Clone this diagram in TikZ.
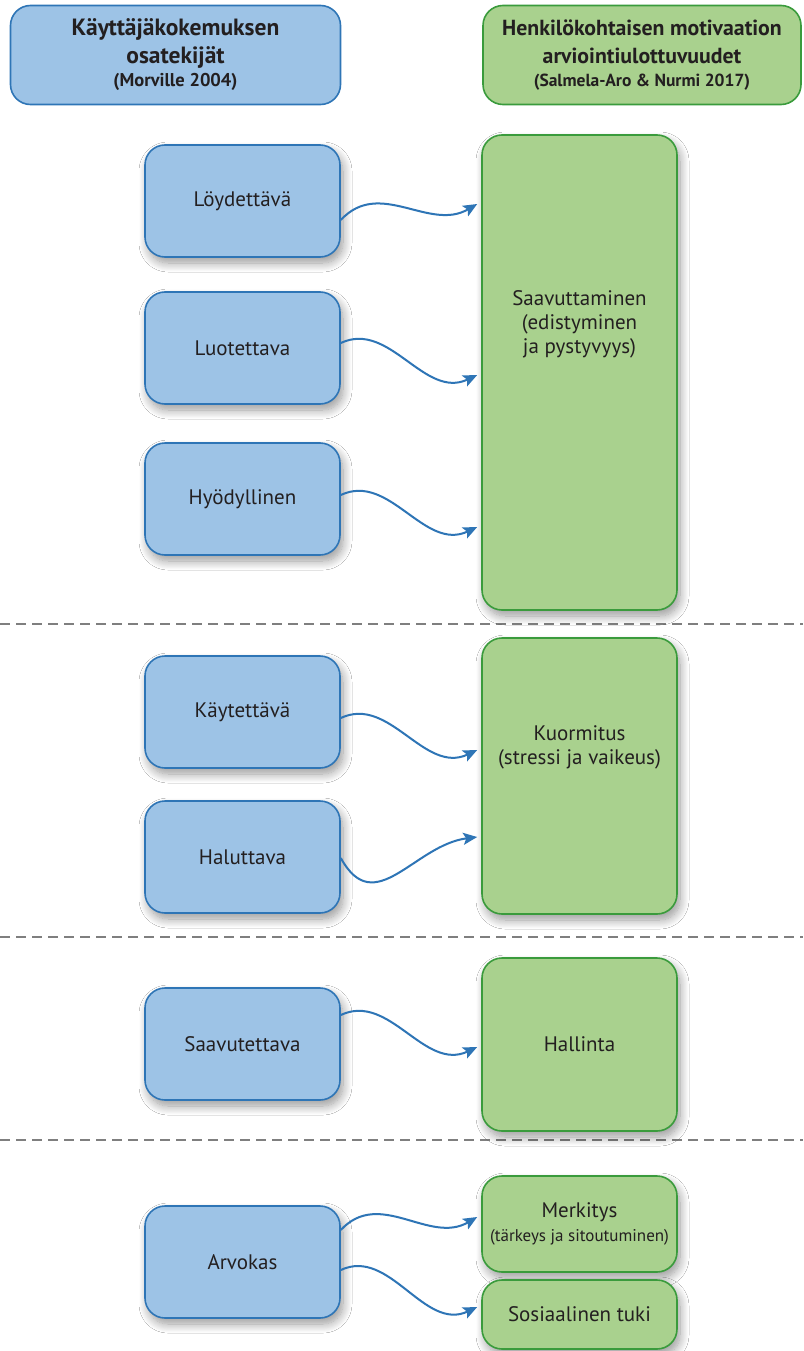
\documentclass[tikz,border=0pt]{standalone}
\usepackage{fontspec}
\setmainfont{PT Sans}
\usetikzlibrary{calc,arrows.meta,shadows.blur}

\definecolor{bfill}{HTML}{9DC3E6}
\definecolor{bline}{HTML}{2E75B6}
\definecolor{gfill}{HTML}{A9D18E}
\definecolor{gline}{HTML}{3A9B3C}
\definecolor{txt}{HTML}{231F20}
\definecolor{arr}{HTML}{2E75B6}
\definecolor{sepcol}{HTML}{7F7F7F}

\begin{document}
\begin{tikzpicture}[x=1pt,y=-1pt,
  box/.style={rounded corners=20pt, line width=1.6pt, minimum width=195pt,
    inner sep=0pt, align=center, text=txt, font=\fontsize{21}{24}\selectfont},
  shad/.style={blur shadow={shadow xshift=3pt, shadow yshift=-6pt,
    shadow blur radius=9pt, shadow opacity=40, shadow blur steps=12}},
  bbox/.style={box, shad, fill=bfill, draw=bline, minimum height=112pt},
  gbox/.style={box, shad, fill=gfill, draw=gline},
  lbl/.style={align=center, text=txt, inner sep=0pt, font=\fontsize{21}{24}\selectfont},
  hbox/.style={rounded corners=20pt, line width=1.6pt, minimum height=99pt,
    inner sep=0pt, align=center, text=txt},
  conn/.style={draw=arr, line width=2pt, -{Stealth[length=14pt,width=12pt,inset=3pt]}},
  sepline/.style={draw=sepcol, line width=1.8pt, dash pattern=on 10pt off 6pt}]

\useasboundingbox (0,0) rectangle (803,1351);
\fill[white] (0,0) rectangle (803,1351);

% headers
\node[hbox, fill=bfill, draw=bline, minimum width=330pt,
  font=\bfseries\fontsize{23.5}{28}\selectfont] (hl) at (175.5,55)
  {Käyttäjäkokemuksen\\osatekijät\\[-5pt]{\fontsize{18.5}{20}\selectfont(Morville 2004)}};
\node[hbox, fill=gfill, draw=gline, minimum width=318pt,
  font=\bfseries\fontsize{21.8}{28}\selectfont] (hr) at (642,55)
  {Henkilökohtaisen motivaation\\arviointiulottuvuudet\\[-5pt]{\fontsize{17.5}{20}\selectfont(Salmela-Aro \& Nurmi 2017)}};

% separators
\draw[sepline] (0,624) -- (803,624);
\draw[sepline] (0,937) -- (803,937);
\draw[sepline] (0,1140) -- (803,1140);

% left boxes
\node[bbox] (lo) at (242.5,201) {Löydettävä};
\node[bbox] (lu) at (242.5,348) {Luotettava};
\node[bbox] (hy) at (242.5,499) {Hyödyllinen};
\node[bbox] (ka) at (242.5,712) {Käytettävä};
\node[bbox] (ha) at (242.5,857) {Haluttava};
\node[bbox] (sv) at (242.5,1044) {Saavutettava};
\node[bbox] (ar) at (242.5,1262) {Arvokas};

% right boxes
\node[gbox, minimum height=475pt] (g1) at (579.5,372.5) {};
\node[lbl] (g1t) at ($(g1.center)+(0,-48)$) {Saavuttaminen\\(edistyminen\\ja pystyvyys)};
\node[gbox, minimum height=276pt] (g2) at (579.5,776) {};
\node[lbl] (g2t) at ($(g2.center)+(0,-29)$) {Kuormitus\\(stressi ja vaikeus)};
\node[gbox, minimum height=173pt] (g3) at (579.5,1044.5) {Hallinta};
\node[gbox, minimum height=96pt] (g4) at (579.5,1224)
  {Merkitys\\{\fontsize{17}{19}\selectfont(tärkeys ja sitoutuminen)}};
\node[gbox, minimum height=69pt] (g5) at (579.5,1314.5) {Sosiaalinen tuki};

% connectors
\draw[conn] ($(lo.east)+(0,19)$) .. controls +(39,-42) and +(-48,28) .. ($(g1.west)+(-4,-168.5)$);
\draw[conn] ($(lu.east)+(0,-5)$) .. controls +(49,-23) and +(-53,25) .. ($(g1.west)+(-4,2.5)$);
\draw[conn] ($(hy.east)+(0,-4)$) .. controls +(49,-23) and +(-53,25) .. ($(g1.west)+(-4,154.5)$);
\draw[conn] ($(ka.east)+(0,6)$) .. controls +(49,-23) and +(-53,25) .. ($(g2.west)+(-4,-26)$);
\draw[conn] ($(ha.east)+(0,1)$) .. controls +(34,62) and +(-63,8) .. ($(g2.west)+(-4,61)$);
\draw[conn] ($(sv.east)+(0,-29)$) .. controls +(49,-23) and +(-53,25) .. ($(g3.west)+(-4,2.5)$);
\draw[conn] ($(ar.east)+(0,-32)$) .. controls +(39,-42) and +(-48,28) .. ($(g4.west)+(-4,-7)$);
\draw[conn] ($(ar.east)+(0,8)$) .. controls +(49,-23) and +(-53,25) .. ($(g5.west)+(-4,-7.5)$);
\end{tikzpicture}
\end{document}
